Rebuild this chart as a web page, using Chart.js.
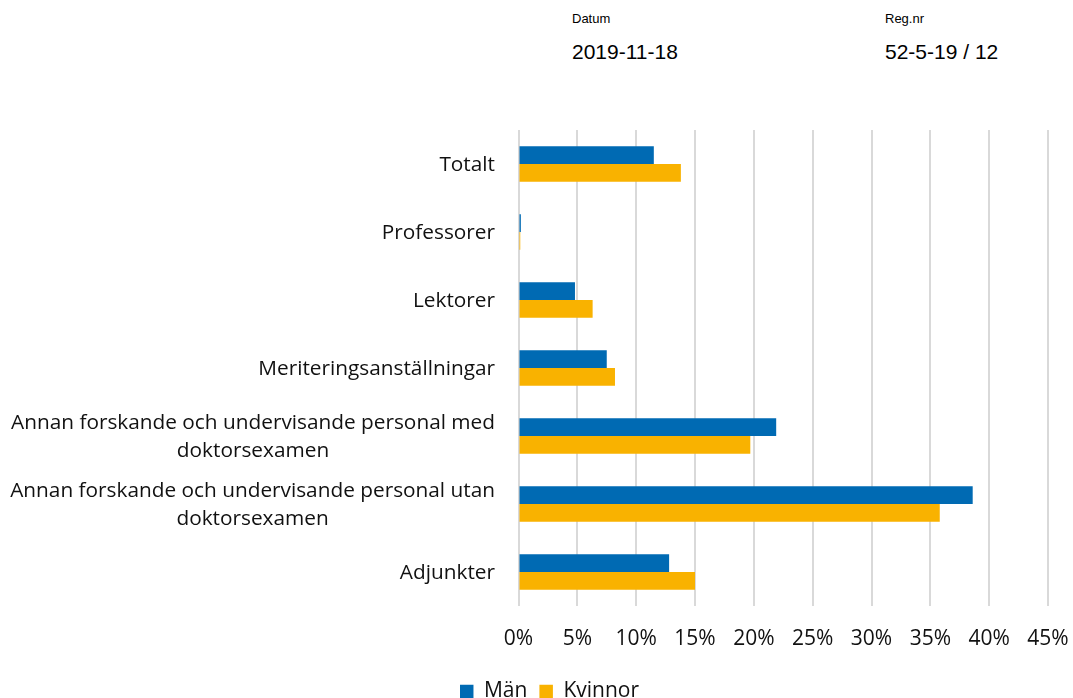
<!DOCTYPE html>
<html lang="sv">
<head>
<meta charset="utf-8">
<title>Andel per anställningskategori</title>
<script src="https://cdn.jsdelivr.net/npm/chart.js@4.4.0/dist/chart.umd.min.js"></script>
<style>
  html, body { margin: 0; padding: 0; background: #fff; overflow: hidden; }
  body { width: 1073px; height: 698px; position: relative; }
  .hdr { position: absolute; font-family: "Liberation Sans", Arial, sans-serif; color: #000; white-space: nowrap; }
  .hdr.small { font-size: 13px; line-height: 13px; }
  .hdr.big { font-size: 21px; line-height: 21px; }
  #wrap { position: absolute; left: 0; top: 0; width: 1073px; height: 712px; }
</style>
</head>
<body>
<div class="hdr small" style="left:572px; top:12px;">Datum</div>
<div class="hdr big" style="left:572px; top:41px;">2019-11-18</div>
<div class="hdr small" style="left:885px; top:12px;">Reg.nr</div>
<div class="hdr big" style="left:885px; top:41px;">52-5-19 / 12</div>
<div id="wrap"><canvas id="chart" width="1073" height="712"></canvas></div>
<script>
// categories, top to bottom; multi-line labels as arrays
const categories = [
  ['Totalt'],
  ['Professorer'],
  ['Lektorer'],
  ['Meriteringsanställningar'],
  ['Annan forskande och undervisande personal med', 'doktorsexamen'],
  ['Annan forskande och undervisande personal utan', 'doktorsexamen'],
  ['Adjunkter']
];
const seriesNames = ['Män', 'Kvinnor'];
const menValues = [11.5, 0.2, 4.8, 7.5, 21.9, 38.6, 12.8];
const womenValues = [13.8, 0.15, 6.3, 8.2, 19.7, 35.8, 15.0];
const xTickValues = [0, 5, 10, 15, 20, 25, 30, 35, 40, 45];

const BLUE = '#006ab3';
const YELLOW = '#f9b200';
const TEXT = '#111';
const LABEL_FONT = '"Open Sans", "Noto Sans", sans-serif';

// category labels: right aligned block, lines centred inside the block
const yLabelPlugin = {
  id: 'yLabels',
  afterDraw(chart) {
    const { ctx, chartArea, scales } = chart;
    const y = scales.y;
    const lineGap = 28.5;
    ctx.save();
    ctx.font = '20.8px ' + LABEL_FONT;
    ctx.fillStyle = TEXT;
    ctx.textAlign = 'center';
    ctx.textBaseline = 'alphabetic';
    categories.forEach((lines, i) => {
      const cy = y.getPixelForValue(i);
      const widest = Math.max(...lines.map(l => ctx.measureText(l).width));
      const cx = chartArea.left - 23.5 - widest / 2;
      const first = cy + 7 - (lines.length - 1) * lineGap / 2;
      lines.forEach((l, j) => ctx.fillText(l, cx, first + j * lineGap));
    });
    ctx.restore();
  }
};

const ctx = document.getElementById('chart').getContext('2d');
new Chart(ctx, {
  type: 'bar',
  data: {
    labels: categories,
    datasets: [
      { label: seriesNames[0], data: menValues, backgroundColor: BLUE },
      { label: seriesNames[1], data: womenValues, backgroundColor: YELLOW }
    ]
  },
  options: {
    indexAxis: 'y',
    responsive: false,
    animation: false,
    datasets: { bar: { categoryPercentage: 0.52, barPercentage: 1 } },
    layout: { padding: { top: 130, left: 51, right: 25, bottom: 0 } },
    plugins: {
      tooltip: { enabled: false },
      legend: {
        position: 'bottom',
        labels: {
          color: TEXT,
          font: { family: LABEL_FONT, size: 21 },
          boxWidth: 13.5,
          boxHeight: 13.5,
          padding: 12
        }
      }
    },
    scales: {
      x: {
        min: 0,
        max: 45,
        afterBuildTicks(scale) { scale.ticks = xTickValues.map(v => ({ value: v })); },
        afterFit(scale) { scale.height = 63; },
        ticks: {
          color: TEXT,
          font: { family: LABEL_FONT, size: 21 },
          padding: 0,
          maxRotation: 0,
          callback: v => v + '%'
        },
        grid: { color: '#d9d9d9', lineWidth: 2, drawTicks: true, tickLength: 20, tickColor: 'rgba(0,0,0,0)' },
        border: { display: false }
      },
      y: {
        ticks: { display: false },
        grid: { display: false },
        border: { display: false },
        afterFit(scale) { scale.width = 467.5; }
      }
    }
  },
  plugins: [yLabelPlugin]
});
</script>
</body>
</html>
